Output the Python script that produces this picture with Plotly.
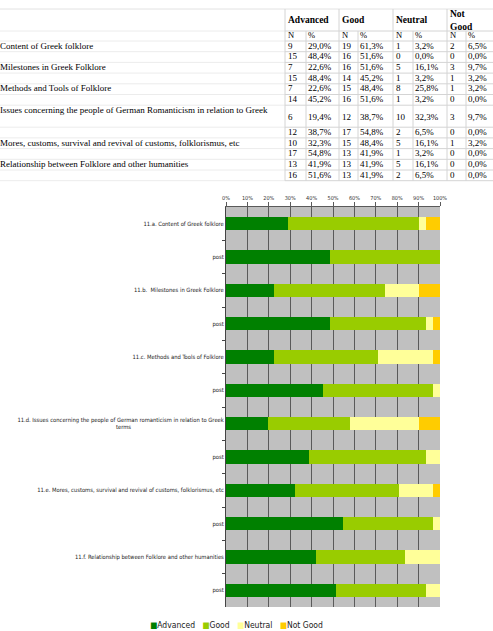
import plotly.graph_objects as go

# ---------------- data ----------------
topics = [
    "Content of Greek folklore",
    "Milestones in Greek Folklore",
    "Methods and Tools of Folklore",
    "Issues concerning the people of German Romanticism in relation to Greek",
    "Mores, customs, survival and revival of customs, folklorismus, etc",
    "Relationship between Folklore and other humanities",
]
series_names = ["Advanced", "Good", "Neutral", "Not Good"]
adv_n = [9, 15, 7, 15, 7, 14, 6, 12, 10, 17, 13, 16]
adv_p = [29.0, 48.4, 22.6, 48.4, 22.6, 45.2, 19.4, 38.7, 32.3, 54.8, 41.9, 51.6]
good_n = [19, 16, 16, 14, 15, 16, 12, 17, 15, 13, 13, 13]
good_p = [61.3, 51.6, 51.6, 45.2, 48.4, 51.6, 38.7, 54.8, 48.4, 41.9, 41.9, 41.9]
neu_n = [1, 0, 5, 1, 8, 1, 10, 2, 5, 1, 5, 2]
neu_p = [3.2, 0.0, 16.1, 3.2, 25.8, 3.2, 32.3, 6.5, 16.1, 3.2, 16.1, 6.5]
ng_n = [2, 0, 3, 1, 1, 0, 3, 0, 1, 0, 0, 0]
ng_p = [6.5, 0.0, 9.7, 3.2, 3.2, 0.0, 9.7, 0.0, 3.2, 0.0, 0.0, 0.0]
chart_labels = [
    "11.a. Content of Greek folklore", "post",
    "11.b.  Milestones in Greek Folklore", "post",
    "11.c. Methods and Tools of Folklore", "post",
    "11.d. Issues concerning the people of German romanticism in relation to Greek<br>terms"
    + "\u00a0" * 56,
    "post",
    "11.e. Mores, customs, survival and revival of customs, folklorismus, etc", "post",
    "11.f. Relationship between Folklore and other humanities", "post",
]
x_ticks = [0, 10, 20, 30, 40, 50, 60, 70, 80, 90, 100]

# ---------------- layout constants ----------------
W, H = 493, 631
SERIF = "Liberation Serif, Times New Roman, serif"
NARROW = "Liberation Sans Narrow, Arial Narrow, DejaVu Sans Condensed, sans-serif"
colors = ["#008000", "#99CC00", "#FFFF99", "#FFCC00"]

main_lines = [285, 339, 393, 447]
sub_lines = [306, 358, 413, 466]
table_top, head_bot, sub_bot = 9, 31, 41
row_h = [10.7] * 12
row_h[6] = 22
row_tops = [sub_bot]
for h in row_h:
    row_tops.append(row_tops[-1] + h)
table_bot = row_tops[-1]

fig = go.Figure()

# ---------------- stacked bar chart ----------------
ypos = list(range(len(chart_labels)))
for name, vals, col in zip(series_names, [adv_p, good_p, neu_p, ng_p], colors):
    fig.add_trace(go.Bar(
        x=vals, y=ypos, orientation="h", name=name,
        marker=dict(color=col, line=dict(width=0)),
        showlegend=False, xaxis="x", yaxis="y", hoverinfo="skip",
    ))

# ---------------- table (text placed through x2/y2 axes) ----------------
def fmt(p):
    return ("%.1f%%" % p).replace(".", ",")

TF = dict(family=SERIF, size=9, color="#000")

lab_y = []
for i in range(0, 12, 2):
    if row_h[i] > 15:
        lab_y.append(row_tops[i] + 6)
    else:
        lab_y.append(row_tops[i] + row_h[i] / 2)
fig.add_trace(go.Scatter(
    x=[0] * len(topics), y=lab_y, text=topics, mode="text",
    textposition="middle right", textfont=TF, cliponaxis=False,
    xaxis="x2", yaxis="y2", showlegend=False, hoverinfo="skip",
))
num_y = []
for i in range(12):
    if row_h[i] > 15:
        num_y.append(row_tops[i] + 13)
    else:
        num_y.append(row_tops[i] + row_h[i] / 2)
for k, (nv, pv) in enumerate([(adv_n, adv_p), (good_n, good_p), (neu_n, neu_p), (ng_n, ng_p)]):
    fig.add_trace(go.Scatter(
        x=[main_lines[k] + 3] * 12, y=num_y, text=[str(v) for v in nv], mode="text",
        textposition="middle right", textfont=TF, cliponaxis=False,
        xaxis="x2", yaxis="y2", showlegend=False, hoverinfo="skip",
    ))
    fig.add_trace(go.Scatter(
        x=[sub_lines[k] + 2] * 12, y=num_y, text=[fmt(v) for v in pv], mode="text",
        textposition="middle right", textfont=TF, cliponaxis=False,
        xaxis="x2", yaxis="y2", showlegend=False, hoverinfo="skip",
    ))
head_txt = ["Advanced", "Good", "Neutral", "Not<br>Good"]
fig.add_trace(go.Scatter(
    x=[m + 3 for m in main_lines], y=[(table_top + head_bot) / 2 + 1] * 4,
    text=["<b>%s</b>" % t for t in head_txt], mode="text",
    textposition="middle right", textfont=dict(family=SERIF, size=9.5, color="#000"),
    cliponaxis=False,
    xaxis="x2", yaxis="y2", showlegend=False, hoverinfo="skip",
))
fig.add_trace(go.Scatter(
    x=[m + 3 for m in main_lines] + [s + 2 for s in sub_lines],
    y=[(head_bot + sub_bot) / 2] * 8,
    text=["N"] * 4 + ["%"] * 4, mode="text",
    textposition="middle right", textfont=dict(family=SERIF, size=8.5, color="#000"),
    cliponaxis=False,
    xaxis="x2", yaxis="y2", showlegend=False, hoverinfo="skip",
))

shapes = []
LC = "#d4d4d4"
shapes.append(dict(type="line", xref="x2", yref="y2", x0=0, x1=W, y0=table_top, y1=table_top,
                   line=dict(color="#e2e2e2", width=1)))
for yb in [head_bot, sub_bot] + row_tops[1:]:
    shapes.append(dict(type="line", xref="x2", yref="y2", x0=main_lines[0], x1=W, y0=yb, y1=yb,
                       line=dict(color=LC, width=1)))
    shapes.append(dict(type="line", xref="x2", yref="y2", x0=0, x1=main_lines[0], y0=yb, y1=yb,
                       line=dict(color="#ececec", width=1)))
for xm in main_lines:
    shapes.append(dict(type="line", xref="x2", yref="y2", x0=xm, x1=xm, y0=table_top, y1=table_bot,
                       line=dict(color=LC, width=1)))
for xs in sub_lines:
    shapes.append(dict(type="line", xref="x2", yref="y2", x0=xs, x1=xs, y0=head_bot, y1=table_bot,
                       line=dict(color=LC, width=1)))
shapes.append(dict(type="rect", xref="x domain", yref="y domain", x0=0, x1=1, y0=0, y1=1,
                   fillcolor="#C0C0C0", line=dict(width=0), layer="below"))

legend_html = "   ".join(
    "<span style='color:%s'>■</span>%s" % (c, n) for c, n in zip(colors, series_names)
)

fig.update_layout(
    width=W, height=H, autosize=False,
    margin=dict(l=0, r=0, t=0, b=0, pad=0),
    paper_bgcolor="white", plot_bgcolor="rgba(0,0,0,0)",
    barmode="stack", bargap=0.6,
    showlegend=False,
    shapes=shapes,
    xaxis=dict(
        domain=[226 / W, 440 / W], range=[0, 100], side="top", anchor="y",
        tickmode="array", tickvals=x_ticks, ticktext=["%d%%" % t for t in x_ticks],
        tickfont=dict(family=NARROW, size=5.5, color="#333"),
        showgrid=True, gridcolor="#5a5a5a", gridwidth=1,
        ticks="outside", ticklen=4, tickcolor="#5a5a5a",
        showline=True, linecolor="#5a5a5a", linewidth=1, zeroline=False,
        automargin=False, fixedrange=True,
    ),
    yaxis=dict(
        domain=[1 - 607 / H, 1 - 207 / H], range=[11.5, -0.5], anchor="x",
        tickmode="array", tickvals=ypos, ticktext=chart_labels,
        tickfont=dict(family=NARROW, size=5.8, color="#222"),
        ticks="", showgrid=False, showline=True, linecolor="#444", linewidth=1,
        zeroline=False, automargin=False,
        minor=dict(tickmode="array", tickvals=[v + 0.5 for v in ypos[:-1]],
                   ticks="outside", ticklen=3, tickcolor="#444", showgrid=False),
        fixedrange=True,
    ),
    xaxis2=dict(domain=[0, 1], range=[0, W], anchor="y2", visible=False,
                automargin=False, fixedrange=True),
    yaxis2=dict(domain=[0, 1], range=[H, 0], anchor="x2", visible=False,
                automargin=False, fixedrange=True),
    annotations=[
        dict(text=legend_html, xref="paper", yref="paper", x=236 / W, y=1 - 625 / H,
             xanchor="center", yanchor="middle", showarrow=False,
             font=dict(family=NARROW, size=8.5, color="#222")),
        dict(text="<b>of the course</b>", xref="paper", yref="paper", x=233 / W, y=1 - 4 / H,
             xanchor="center", yanchor="bottom", showarrow=False,
             font=dict(family=SERIF, size=9, color="#000")),
    ],
)

fig.write_html("out.html", config={"displayModeBar": False},
               post_script="document.body.style.margin='0px';")
